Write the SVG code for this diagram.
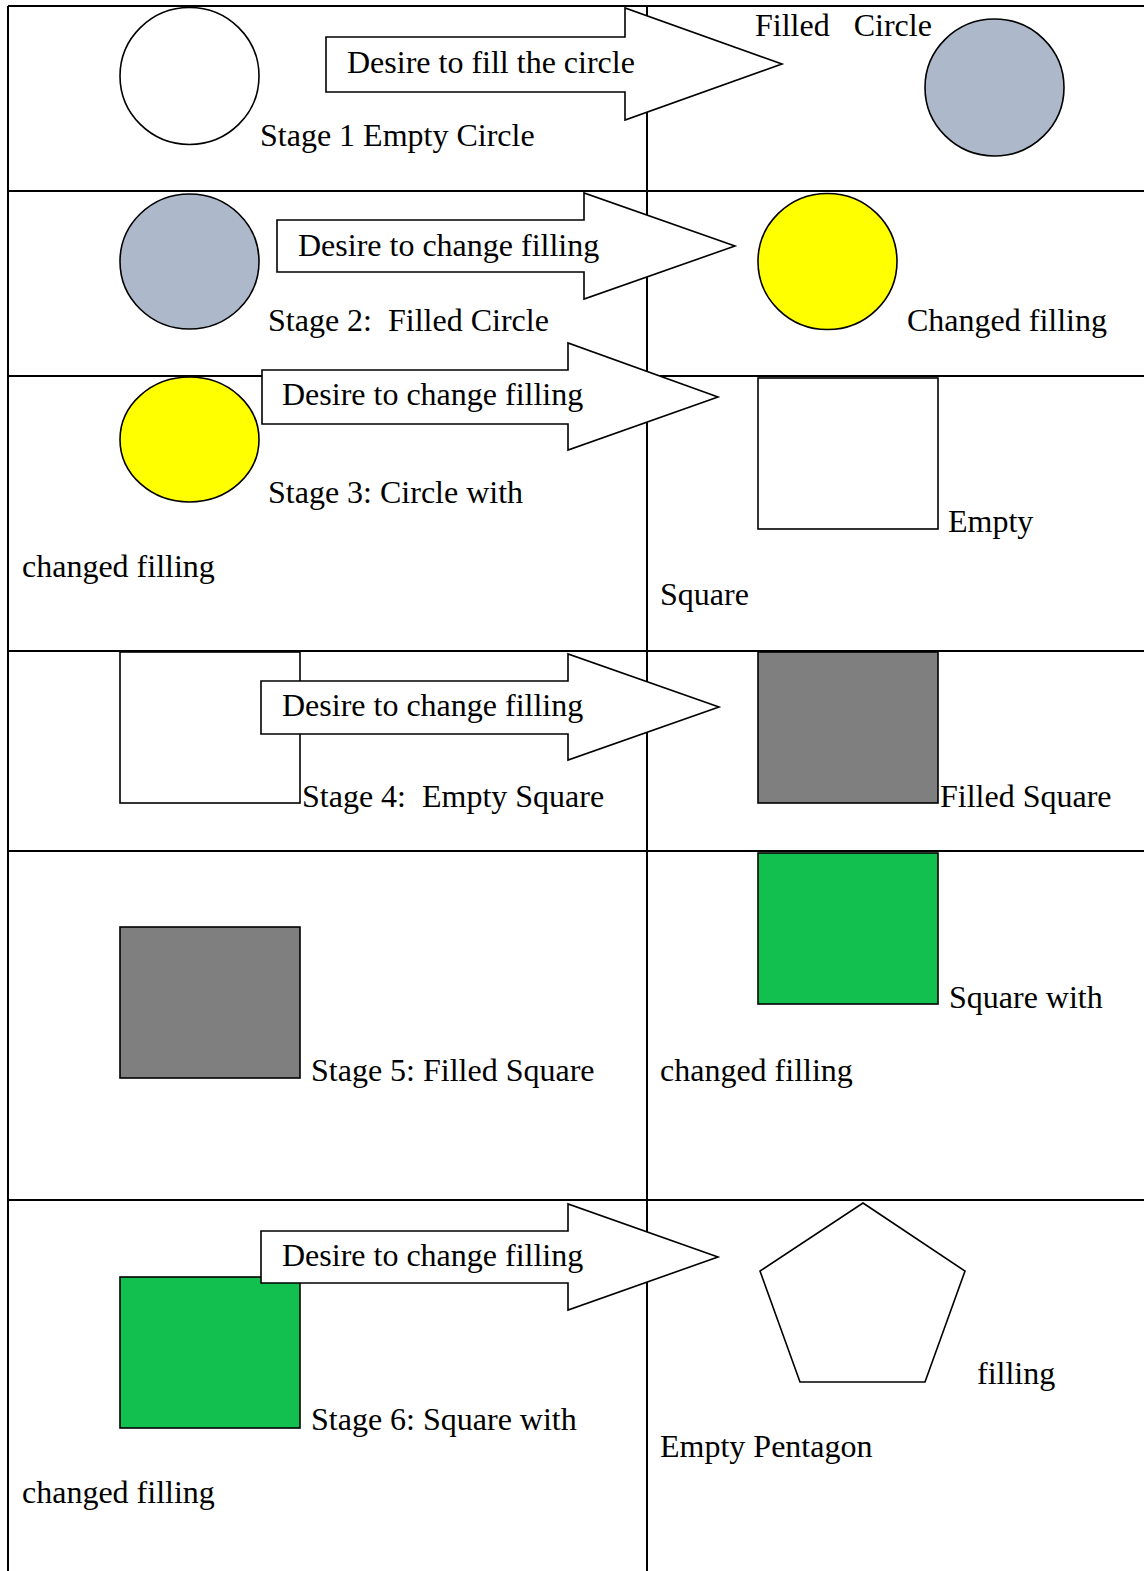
<svg xmlns="http://www.w3.org/2000/svg" width="1144" height="1571" viewBox="0 0 1144 1571">
<style>
.t{font-family:"Liberation Serif","Times New Roman",serif;font-size:32px;fill:#000;white-space:pre}
.grid{stroke:#000;stroke-width:2;fill:none}
.sh{stroke:#000;stroke-width:1.6}
.arrow{fill:#fff;stroke:#000;stroke-width:1.6;stroke-linejoin:miter}
</style>
<rect width="1144" height="1571" fill="#fff"/>
<g id="grid" class="grid">
<line x1="8" y1="6" x2="1144" y2="6"/>
<line x1="8" y1="6" x2="8" y2="1571"/>
<line x1="647" y1="6" x2="647" y2="1571"/>
<line x1="8" y1="191" x2="1144" y2="191"/>
<line x1="8" y1="376" x2="1144" y2="376"/>
<line x1="8" y1="651" x2="1144" y2="651"/>
<line x1="8" y1="851" x2="1144" y2="851"/>
<line x1="8" y1="1200" x2="1144" y2="1200"/>
</g>
<g id="stage1-empty-circle"><ellipse class="sh" cx="189.5" cy="76" rx="69.5" ry="68.5" fill="#fff"/></g>
<g id="filled-circle"><ellipse class="sh" cx="994.5" cy="87.5" rx="69.5" ry="68.5" fill="#adb9ca"/></g>
<g id="stage2-filled-circle"><ellipse class="sh" cx="189.5" cy="261.5" rx="69.5" ry="67.5" fill="#adb9ca"/></g>
<g id="changed-filling-circle"><ellipse class="sh" cx="827.5" cy="261.5" rx="69.5" ry="68" fill="#ffff00"/></g>
<g id="stage3-circle"><ellipse class="sh" cx="189.5" cy="439.5" rx="69.5" ry="62.5" fill="#ffff00"/></g>
<g id="empty-square"><rect class="sh" x="758" y="378" width="180" height="151" fill="#fff"/></g>
<g id="stage4-empty-square"><rect class="sh" x="120" y="652" width="180" height="151" fill="#fff"/></g>
<g id="filled-square"><rect class="sh" x="758" y="652" width="180" height="151" fill="#7f7f7f"/></g>
<g id="square-changed-filling"><rect class="sh" x="758" y="853" width="180" height="151" fill="#12c04f"/></g>
<g id="stage5-filled-square"><rect class="sh" x="120" y="927" width="180" height="151" fill="#7f7f7f"/></g>
<g id="stage6-square"><rect class="sh" x="120" y="1277" width="180" height="151" fill="#12c04f"/></g>
<g id="empty-pentagon"><polygon class="sh" points="863,1203 965,1271 925,1382 800,1382 760,1271" fill="#fff"/></g>
<g id="connectors">
<g id="arrow1"><polygon class="arrow" points="326,37 625,37 625,8 782,64 625,120 625,92 326,92"/><text class="t" x="347" y="73">Desire to fill the circle</text></g>
<g id="arrow2"><polygon class="arrow" points="277,220 584,220 584,193 735,246 584,299 584,272 277,272"/><text class="t" x="298" y="256">Desire to change filling</text></g>
<g id="arrow3"><polygon class="arrow" points="262,370 568,370 568,343 718,397 568,450 568,424 262,424"/><text class="t" x="282" y="405">Desire to change filling</text></g>
<g id="arrow4"><polygon class="arrow" points="261,681 568,681 568,654 719,707 568,760 568,734 261,734"/><text class="t" x="282" y="716">Desire to change filling</text></g>
<g id="arrow6"><polygon class="arrow" points="261,1231 568,1231 568,1204 718,1257 568,1310 568,1283 261,1283"/><text class="t" x="282" y="1266">Desire to change filling</text></g>
</g>
<g id="labels">
<text class="t" x="260" y="146">Stage 1 Empty Circle</text>
<text class="t" x="755" y="36">Filled   Circle</text>
<text class="t" x="268" y="331">Stage 2:  Filled Circle</text>
<text class="t" x="907" y="331">Changed filling</text>
<text class="t" x="268" y="503">Stage 3: Circle with</text>
<text class="t" x="22" y="577">changed filling</text>
<text class="t" x="948" y="532">Empty</text>
<text class="t" x="660" y="605">Square</text>
<text class="t" x="302" y="807">Stage 4:  Empty Square</text>
<text class="t" x="940" y="807">Filled Square</text>
<text class="t" x="949" y="1008">Square with</text>
<text class="t" x="660" y="1081">changed filling</text>
<text class="t" x="311" y="1081">Stage 5: Filled Square</text>
<text class="t" x="311" y="1430">Stage 6: Square with</text>
<text class="t" x="22" y="1503">changed filling</text>
<text class="t" x="977" y="1384">filling</text>
<text class="t" x="660" y="1457">Empty Pentagon</text>
</g>
</svg>
